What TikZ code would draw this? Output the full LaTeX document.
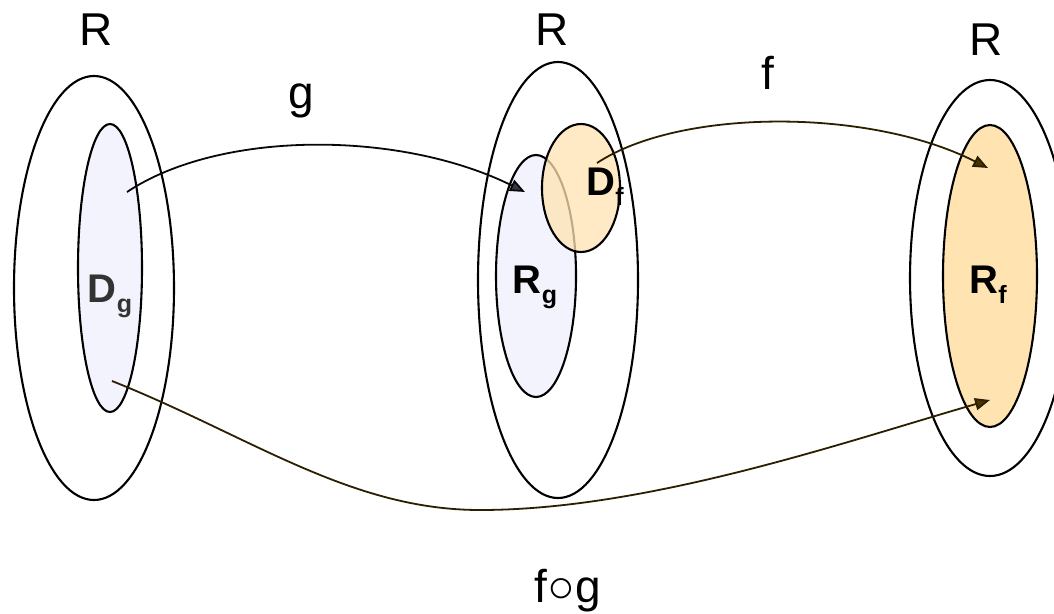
\documentclass[tikz,border=0pt]{standalone}
\usepackage{fontspec}
\setmainfont{Liberation Sans}
\usetikzlibrary{arrows.meta}
\definecolor{lav}{HTML}{F3F3FD}
\definecolor{org}{HTML}{FFE4B2}
\definecolor{gtip}{HTML}{383848}
\definecolor{ftip}{HTML}{4A3300}
\tikzset{
  setline/.style={draw=black,line width=2.1pt},
  lbl/.style={inner sep=0pt,anchor=base,font=\fontsize{46}{46}\selectfont},
  blbl/.style={inner sep=0pt,anchor=base,font=\fontsize{40}{40}\selectfont\bfseries},
  garrow/.style={draw=black!85!gtip,line width=1.8pt,-{Triangle[length=15pt,width=12pt,fill=gtip]}},
  farrow/.style={draw=ftip!60!black,line width=1.8pt,-{Triangle[length=15pt,width=12pt,fill=ftip]}},
}
\newcommand{\sub}[1]{\raisebox{-10pt}{\fontsize{25}{25}\selectfont #1}}
\begin{document}
\begin{tikzpicture}[x=1pt,y=-1pt]
\useasboundingbox (0,0) rectangle (1054,613);
\fill[white] (0,0) rectangle (1054,613);
% outer sets
\draw[setline] (94,288) ellipse [x radius=80,y radius=212];
\draw[setline] (558,280) ellipse [x radius=80,y radius=218];
\draw[setline] (990,278) ellipse [x radius=80,y radius=198];
% inner sets
\draw[setline,fill=lav] (110,268) ellipse [x radius=32,y radius=144];
\draw[setline,fill=lav] (536,276) ellipse [x radius=40,y radius=121];
\draw[setline,fill=org,fill opacity=0.75] (581,188) ellipse [x radius=39,y radius=64];
\draw[setline,fill=org] (990,276) ellipse [x radius=47,y radius=151];
% labels
\node[lbl] (R1) at (96,45) {R};
\node[lbl] (R2) at (552,45) {R};
\node[lbl] (R3) at (986,55) {R};
\node[lbl] (lg) at (301,108) {g};
\node[lbl] (lf) at (768,89) {f};
\node[lbl] (lfg) at (568,602) {f○g};
\node[blbl,text=black!80] (Dg) at (110,302) {D\sub{g}};
\node[blbl] (Rg) at (535,293) {R\sub{g}};
\node[blbl] (Df) at (605,195) {D\sub{f}};
\node[blbl] (Rf) at (988,293) {R\sub{f}};
% connector ends
\coordinate (gs) at (127,192);
\coordinate (ge) at (525,192);
\coordinate (fs) at (597,163);
\coordinate (fe) at (988,168);
\coordinate (hs) at (112,381);
\coordinate (hm) at (480,510);
\coordinate (he) at (990,400);
% connectors
\draw[garrow] (gs) .. controls (220,130) and (400,130) .. (ge);
\draw[farrow] (fs) .. controls (680,108) and (870,108) .. (fe);
\draw[farrow] (hs) .. controls (250,436) and (350,510) .. (hm) .. controls (650,510) and (850,440) .. (he);
\end{tikzpicture}
\end{document}
